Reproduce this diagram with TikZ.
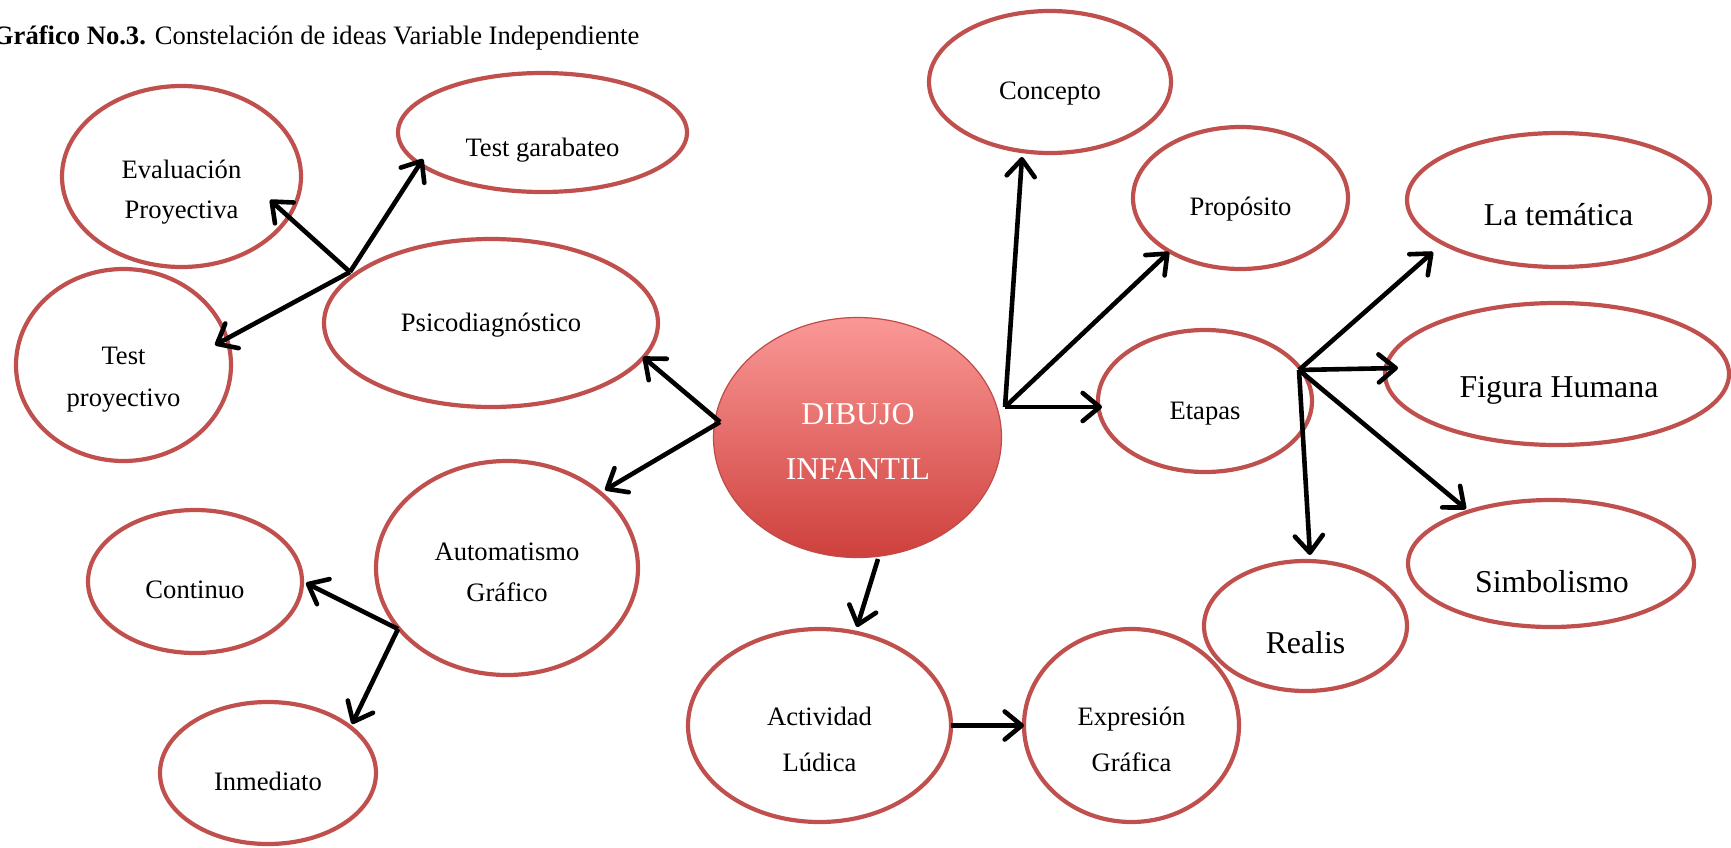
\documentclass[tikz,border=0pt]{standalone}
\usepackage{fontspec}
\setmainfont{Liberation Serif}
\usetikzlibrary{arrows.meta,shapes.geometric}
\definecolor{ellred}{RGB}{192,80,77}
\definecolor{dibtop}{RGB}{250,152,150}
\definecolor{dibbot}{RGB}{206,64,60}
\definecolor{dibdraw}{RGB}{190,76,72}
\begin{document}
\begin{tikzpicture}[x=0.5pt,y=-0.5pt,
  ell/.style={ellipse, draw=ellred, line width=2.1pt, inner sep=0pt, outer sep=0pt},
  sm/.style={inner sep=0pt, outer sep=0pt, text height=8.7pt, text depth=0pt, font=\fontsize{13.3pt}{16pt}\selectfont},
  bg/.style={inner sep=0pt, outer sep=0pt, text height=10.4pt, text depth=0pt, font=\fontsize{15.9pt}{19pt}\selectfont},
  arr/.style={line width=2.3pt, -{Straight Barb[length=8.5pt,width=14pt,round]}},
]
\useasboundingbox (0,0) rectangle (1731,847);

% title
\node[sm, anchor=west] (title) at (-7,36) {\textbf{Gráfico No.3.} Constelación de ideas Variable Independiente};

% ellipses
\node[ell, minimum width=119.5pt, minimum height=90.5pt] (eval) at (181.5,176.5) {};
\node[sm] (eval-a) at (181.5,170) {Evaluación};
\node[sm] (eval-b) at (181.5,210) {Proyectiva};

\node[ell, minimum width=144.5pt, minimum height=59.5pt] (garab) at (542.5,132.5) {};
\node[sm] (garab-a) at (542.5,147.5) {Test garabateo};

\node[ell, minimum width=107.5pt, minimum height=96pt] (proy) at (123.5,365) {};
\node[sm] (proy-a) at (123.5,356) {Test};
\node[sm] (proy-b) at (123.5,398) {proyectivo};

\node[ell, minimum width=167pt, minimum height=84pt] (psico) at (491,323) {};
\node[sm] (psico-a) at (491,323) {Psicodiagnóstico};

\node[ell, minimum width=131pt, minimum height=107pt] (auto) at (507,568) {};
\node[sm] (auto-a) at (507,552) {Automatismo};
\node[sm] (auto-b) at (507,593) {Gráfico};

\node[ell, minimum width=107pt, minimum height=71.5pt] (cont) at (195,581.5) {};
\node[sm] (cont-a) at (195,590) {Continuo};

\node[ell, minimum width=108pt, minimum height=71pt] (inme) at (268,773) {};
\node[sm] (inme-a) at (268,782) {Inmediato};

\node[ellipse, inner sep=0pt, outer sep=0pt, draw=dibdraw, line width=0.6pt,
      top color=dibtop, bottom color=dibbot,
      minimum width=144pt, minimum height=120pt] (dib) at (857.5,437.5) {};
\node[bg, text=white] (dib-a) at (858,414) {DIBUJO};
\node[bg, text=white] (dib-b) at (858,469) {INFANTIL};

\node[ell, minimum width=131.5pt, minimum height=96.5pt] (act) at (819.5,725.5) {};
\node[sm] (act-a) at (819.5,717) {Actividad};
\node[sm] (act-b) at (819.5,763) {Lúdica};

\node[ell, minimum width=107.5pt, minimum height=96.5pt] (expr) at (1131.5,725.5) {};
\node[sm] (expr-a) at (1131.5,717) {Expresión};
\node[sm] (expr-b) at (1131.5,763) {Gráfica};

\node[ell, minimum width=121pt, minimum height=71pt] (conc) at (1050,82) {};
\node[sm] (conc-a) at (1050,91) {Concepto};

\node[ell, minimum width=107.5pt, minimum height=71pt] (prop) at (1240.5,198) {};
\node[sm] (prop-a) at (1240.5,207) {Propósito};

\node[ell, minimum width=107pt, minimum height=71pt] (etap) at (1205,401) {};
\node[sm] (etap-a) at (1205,411) {Etapas};

\node[ell, minimum width=151.5pt, minimum height=67pt] (tema) at (1558.5,200) {};
\node[bg] (tema-a) at (1558.5,215) {La temática};

\node[ell, minimum width=172pt, minimum height=71pt] (fig) at (1557,374) {};
\node[bg] (fig-a) at (1559,387) {Figura Humana};

\node[ell, minimum width=143pt, minimum height=63.5pt] (simb) at (1551,563.5) {};
\node[bg] (simb-a) at (1552,582) {Simbolismo};

\node[ell, minimum width=101.5pt, minimum height=65pt] (real) at (1305.5,626) {};
\node[bg] (real-a) at (1305.5,643) {Realis};

% junctions and arrow ends
\coordinate (J1) at (350,272);
\coordinate (tgarab) at (423,159);
\coordinate (teval) at (270,200);
\coordinate (tproy) at (215,345);
\coordinate (D1) at (720,422);
\coordinate (tpsico) at (643,357);
\coordinate (tauto) at (605,490);
\coordinate (J2) at (398,629);
\coordinate (tcont) at (306,583);
\coordinate (tinme) at (352,724);
\coordinate (D2) at (878,559);
\coordinate (tact) at (857,627);
\coordinate (J3) at (1005,407);
\coordinate (tconc) at (1022,157);
\coordinate (tprop) at (1169,252);
\coordinate (tetap) at (1102,407);
\coordinate (J4) at (1299,370);
\coordinate (ttema) at (1433,252);
\coordinate (tfig) at (1398,368);
\coordinate (tsimb) at (1466,509);
\coordinate (treal) at (1310,555);

\draw[arr] (J1) -- (tgarab);
\draw[arr] (J1) -- (teval);
\draw[arr] (J1) -- (tproy);
\draw[arr] (D1) -- (tpsico);
\draw[arr] (D1) -- (tauto);
\draw[arr] (J2) -- (tcont);
\draw[arr] (J2) -- (tinme);
\draw[arr] (D2) -- (tact);
\draw[arr] (act.east) -- (expr.west);
\draw[arr] (J3) -- (tconc);
\draw[arr] (J3) -- (tprop);
\draw[arr] (J3) -- (tetap);
\draw[arr] (J4) -- (ttema);
\draw[arr] (J4) -- (tfig);
\draw[arr] (J4) -- (tsimb);
\draw[arr] (J4) -- (treal);
\end{tikzpicture}
\end{document}
